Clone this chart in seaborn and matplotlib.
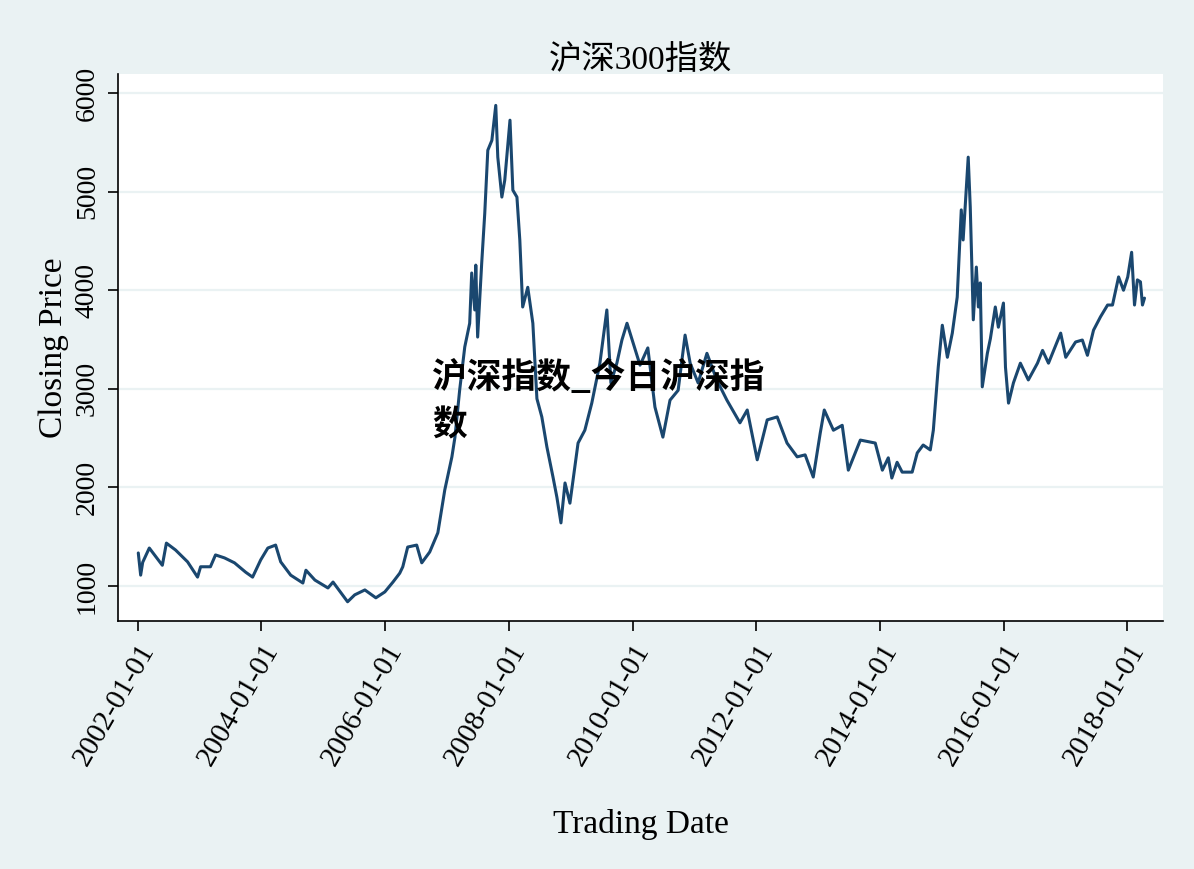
import numpy as np
import pandas as pd
import seaborn as sns
import matplotlib.pyplot as plt
import matplotlib.dates as mdates

# === data (approximate turning points) ===
dates = [
    "2002-01-04", "2002-01-18", "2002-01-30", "2002-03-10", "2002-05-26", "2002-06-19",
    "2002-08-12", "2002-10-22", "2002-12-20", "2003-01-07", "2003-03-06", "2003-04-05",
    "2003-05-28", "2003-07-26", "2003-09-30", "2003-11-10", "2003-12-28", "2004-02-08",
    "2004-03-25", "2004-04-24", "2004-06-22", "2004-09-02", "2004-09-20", "2004-11-12",
    "2005-01-28", "2005-02-27", "2005-05-24", "2005-07-05", "2005-09-03", "2005-11-07",
    "2005-12-30", "2006-02-16", "2006-03-28", "2006-04-15", "2006-05-14", "2006-07-06",
    "2006-08-05", "2006-09-21", "2006-11-08", "2006-12-19", "2007-01-30", "2007-02-17",
    "2007-03-17", "2007-04-16", "2007-05-15", "2007-05-27", "2007-06-14", "2007-06-20",
    "2007-07-01", "2007-07-25", "2007-08-12", "2007-08-30", "2007-09-23", "2007-10-16",
    "2007-10-28", "2007-11-21", "2007-12-08", "2008-01-08", "2008-01-25", "2008-02-18",
    "2008-03-06", "2008-03-23", "2008-04-22", "2008-05-22", "2008-06-15", "2008-07-14",
    "2008-08-13", "2008-09-18", "2008-10-11", "2008-11-04", "2008-11-28", "2008-12-27",
    "2009-02-13", "2009-03-25", "2009-05-05", "2009-06-22", "2009-08-02", "2009-08-26",
    "2009-09-30", "2009-10-30", "2009-11-29", "2010-01-04", "2010-02-14", "2010-04-01",
    "2010-05-13", "2010-06-29", "2010-08-10", "2010-09-27", "2010-11-07", "2010-12-07",
    "2011-01-23", "2011-03-16", "2011-05-13", "2011-07-12", "2011-09-27", "2011-11-09",
    "2012-01-07", "2012-03-06", "2012-05-04", "2012-07-01", "2012-08-30", "2012-10-16",
    "2012-12-03", "2013-01-13", "2013-02-06", "2013-04-01", "2013-05-23", "2013-06-28",
    "2013-09-07", "2013-12-04", "2014-01-15", "2014-02-19", "2014-03-12", "2014-04-12",
    "2014-05-12", "2014-07-10", "2014-08-09", "2014-09-13", "2014-10-25", "2014-11-12",
    "2014-12-11", "2015-01-04", "2015-02-03", "2015-03-04", "2015-04-02", "2015-04-26",
    "2015-05-07", "2015-06-06", "2015-06-18", "2015-07-06", "2015-07-24", "2015-08-05",
    "2015-08-16", "2015-08-28", "2015-09-27", "2015-10-15", "2015-11-13", "2015-12-01",
    "2015-12-31", "2016-01-12", "2016-01-30", "2016-02-28", "2016-04-09", "2016-05-26",
    "2016-07-19", "2016-08-18", "2016-09-22", "2016-12-03", "2017-01-02", "2017-03-01",
    "2017-04-10", "2017-05-10", "2017-06-15", "2017-07-26", "2017-09-06", "2017-10-05",
    "2017-11-10", "2017-12-09", "2018-01-03", "2018-01-26", "2018-02-12", "2018-03-01",
    "2018-03-19", "2018-03-31", "2018-04-12",
]
close = [
    1335, 1110, 1240, 1385, 1210, 1435,
    1365, 1245, 1090, 1195, 1195, 1315,
    1285, 1235, 1140, 1090, 1265, 1385,
    1415, 1245, 1110, 1030, 1160, 1060,
    980, 1040, 840, 910, 960, 880,
    940, 1040, 1130, 1195, 1395, 1415,
    1235, 1345, 1540, 1975, 2310, 2510,
    2990, 3425, 3665, 4175, 3800, 4255,
    3525, 4275, 4780, 5420, 5520, 5875,
    5350, 4945, 5115, 5725, 5015, 4945,
    4510, 3830, 4030, 3665, 2900, 2715,
    2410, 2105, 1900, 1640, 2045, 1840,
    2450, 2580, 2855, 3260, 3800, 3060,
    3260, 3495, 3665, 3465, 3240, 3415,
    2815, 2510, 2885, 2985, 3545, 3260,
    3060, 3360, 3090, 2885, 2655, 2785,
    2280, 2685, 2715, 2450, 2310, 2330,
    2105, 2550, 2785, 2580, 2630, 2175,
    2480, 2450, 2175, 2300, 2095, 2255,
    2155, 2155, 2350, 2430, 2380, 2580,
    3220, 3645, 3320, 3565, 3930, 4815,
    4510, 5350, 4845, 3700, 4235, 3830,
    4075, 3020, 3360, 3510, 3830, 3625,
    3870, 3220, 2855, 3060, 3260, 3090,
    3260, 3390, 3260, 3565, 3320, 3475,
    3495, 3340, 3595, 3730, 3850, 3850,
    4135, 4000, 4135, 4385, 3850, 4105,
    4085, 3850, 3920,
]
x_ticks = ["2002-01-01", "2004-01-01", "2006-01-01", "2008-01-01",
           "2010-01-01", "2012-01-01", "2014-01-01", "2016-01-01", "2018-01-01"]
y_ticks = [1000, 2000, 3000, 4000, 5000, 6000]

df = pd.DataFrame({"Trading Date": pd.to_datetime(dates), "Closing Price": close})

BG = "#EAF2F3"
LINE = "#1A476F"

sns.set_style("white")
plt.rcParams["font.family"] = ["Liberation Serif", "Noto Sans CJK SC", "DejaVu Sans"]
plt.rcParams["text.color"] = "black"
plt.rcParams["axes.labelcolor"] = "black"

fig = plt.figure(figsize=(11.94, 8.69), dpi=100, facecolor=BG)
ax = fig.add_axes([0.0988, 0.2854, 0.8752, 0.6294])
ax.set_facecolor("white")

sns.lineplot(data=df, x="Trading Date", y="Closing Price", ax=ax,
             color=LINE, linewidth=2.2, zorder=3)

ax.set_xlim(pd.Timestamp("2001-09-06"), pd.Timestamp("2018-07-30"))
ax.set_ylim(645, 6193)

ax.set_yticks(y_ticks)
ax.set_yticklabels([str(v) for v in y_ticks], rotation=90, va="center", fontsize=20)
ax.set_xticks(pd.to_datetime(x_ticks))
ax.xaxis.set_major_formatter(mdates.DateFormatter("%Y-%m-%d"))
plt.setp(ax.get_xticklabels(), rotation=60, ha="right", rotation_mode="anchor", fontsize=21)

ax.grid(axis="y", color=BG, linewidth=1.6, zorder=0)
ax.grid(axis="x", visible=False)
for s in ["top", "right"]:
    ax.spines[s].set_visible(False)
for s in ["left", "bottom"]:
    ax.spines[s].set_color("black")
    ax.spines[s].set_linewidth(1.2)
ax.tick_params(axis="both", direction="out", length=7, width=1.2, color="black",
               labelcolor="black", bottom=True, left=True)
ax.tick_params(axis="x", pad=6)
ax.tick_params(axis="y", pad=6)

ax.set_xlabel("Trading Date", fontsize=24, labelpad=28)
ax.set_ylabel("Closing Price", fontsize=24, labelpad=4)
ax.set_title("沪深300指数", fontsize=24, pad=4, color="black")

fig.text(432 / 1194, 1 - 360 / 869, "沪深指数_今日沪深指\n数", fontsize=25,
         fontweight=900, family=["Noto Sans CJK SC", "DejaVu Sans"],
         color="black", ha="left", va="top", linespacing=1.45, zorder=10)

fig.savefig("out.png", dpi=100, facecolor=BG)
